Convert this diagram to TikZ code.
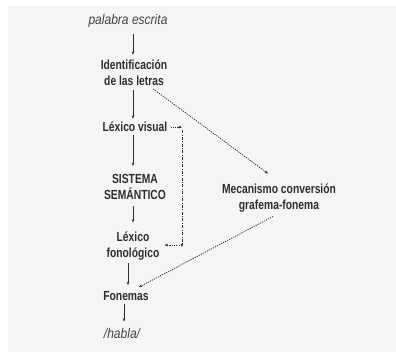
\documentclass[tikz,border=0pt]{standalone}
\usepackage{fontspec}
\setmainfont{Liberation Sans}
\newfontfamily\narrowbf[FakeStretch=0.78]{Liberation Sans}
\newfontfamily\narrowit[FakeStretch=0.86]{Liberation Sans}
\usetikzlibrary{arrows.meta}
\definecolor{ink}{HTML}{2E2E2E}
\definecolor{paper}{HTML}{F5F5F3}
\tikzset{
  stage/.style={font=\narrowbf\fontsize{13.2}{16}\selectfont\bfseries, text=ink, align=center, inner sep=0pt},
  endpoint/.style={font=\narrowit\fontsize{14}{15}\selectfont\itshape, text=ink!90, inner sep=0pt},
  flow/.style={draw=ink, line width=0.6pt, -{Stealth[length=3.5pt,width=2.6pt]}},
  route/.style={draw=ink, line width=0.75pt, dash pattern=on 1.2pt off 1.1pt, -{Stealth[length=3.5pt,width=2.6pt]}},
  routedd/.style={draw=ink, line width=0.7pt, dash pattern=on 3pt off 1.5pt on 0.8pt off 1.5pt, -{Stealth[length=3.5pt,width=2.6pt]}}
}
\begin{document}
\begin{tikzpicture}[x=1pt,y=-1pt]
  % page and scanned paper tone
  \fill[white] (0,0) rectangle (396,362);
  \fill[paper] (8,6) rectangle (396,352);
  \useasboundingbox (0,0) rectangle (396,362);

  % processing stages
  \node[endpoint] (pal)   at (128,21)  {palabra escrita};
  \node[stage]    (ident) at (134,73)  {Identificación\\de las letras};
  \node[stage]    (lexv)  at (135,127) {Léxico visual};
  \node[stage]    (sis)   at (135,187) {SISTEMA\\SEMÁNTICO};
  \node[stage]    (lexf)  at (133,246) {Léxico\\fonológico};
  \node[stage]    (fon)   at (126,296) {Fonemas};
  \node[endpoint] (hab)   at (122,333) {/habla/};
  \node[stage]    (mec)   at (279,198) {Mecanismo conversión\\grafema-fonema};

  % lexical route (canvas shifts: positive yshift points up)
  \draw[flow] ([xshift=5pt,yshift=-6pt]pal.south) -- ([xshift=-1pt,yshift=5pt]ident.north);
  \draw[flow] ([xshift=-1pt,yshift=-4pt]ident.south) -- ([xshift=-2pt,yshift=3pt]lexv.north);
  \draw[flow] ([xshift=-2pt,yshift=-3pt]lexv.south) -- ([xshift=-2pt,yshift=8pt]sis.north);
  \draw[flow] ([xshift=-2pt,yshift=-6pt]sis.south) -- ([xshift=0pt,yshift=9pt]lexf.north);
  \draw[flow] ([xshift=-5pt,yshift=-3pt]lexf.south) -- ([xshift=2pt,yshift=6pt]fon.north);
  \draw[flow] ([xshift=-2pt,yshift=-3pt]fon.south) -- ([xshift=2pt,yshift=6pt]hab.north);

  % direct link between the two lexicons
  \coordinate (c1) at (182,127);
  \coordinate (c2) at (182,247);
  \draw[route] ([xshift=3pt]lexv.east) -- (c1);
  \draw[routedd] ([yshift=-3pt]c1) -- (c2);
  \draw[route] ([yshift=2pt]c2) -- ([xshift=5pt,yshift=2pt]c2 -| lexf.east);

  % sublexical route
  \draw[route] ([xshift=-14pt,yshift=-3pt]ident.south east) -- ([xshift=-11pt,yshift=10pt]mec.north);
  \draw[route] ([xshift=-6pt,yshift=-4pt]mec.south) -- ([xshift=-10pt,yshift=4pt]fon.north east);
\end{tikzpicture}
\end{document}
